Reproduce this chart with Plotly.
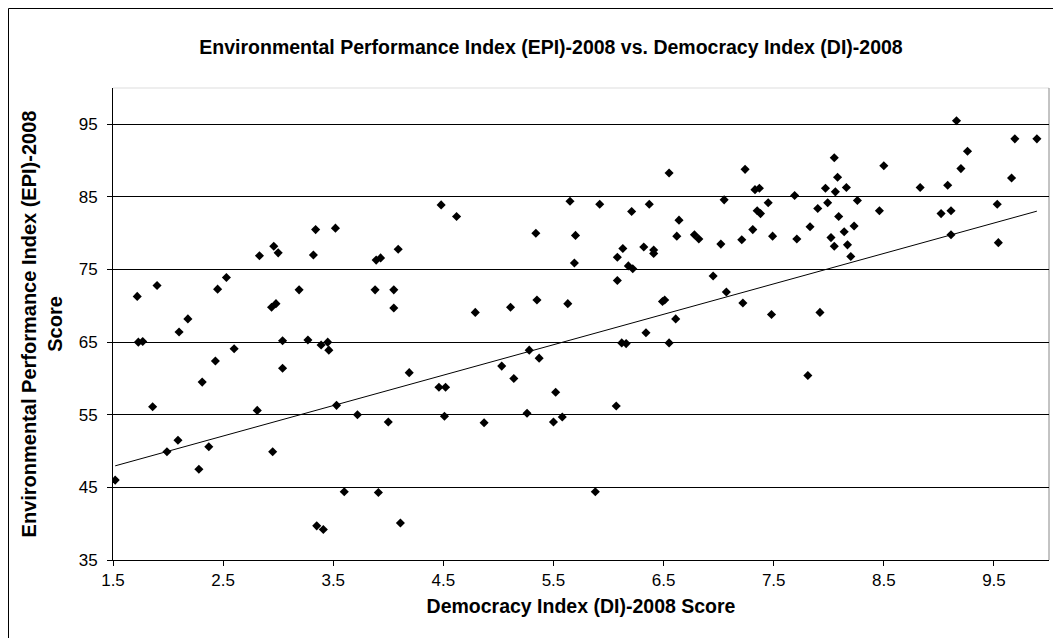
import numpy as np
import plotly.graph_objects as go

# Democracy Index (DI)-2008 score
di_score = [
    3.34, 2.96, 3.00, 2.83, 3.32, 1.72, 1.90, 2.45, 2.53, 2.94,
    2.98, 3.19, 2.10, 2.18, 1.73, 1.77, 2.60, 3.04, 3.27, 3.39,
    2.43, 2.31, 3.04, 1.52, 1.86, 1.99, 2.09, 2.28, 2.37, 2.81,
    2.95, 3.35, 3.41, 3.52, 4.09, 4.48, 4.62, 5.34, 3.89, 3.93,
    3.88, 4.05, 4.05, 4.79, 5.11, 5.35, 3.45, 3.46, 4.19, 4.46,
    4.52, 5.03, 5.14, 5.28, 5.37, 5.52, 3.53, 3.72, 4.00, 4.51,
    4.87, 5.26, 5.50, 5.58, 3.60, 3.91, 4.11, 6.07, 5.88, 6.55,
    7.24, 5.65, 5.92, 6.37, 6.21, 7.05, 7.33, 7.37, 7.45, 7.69,
    7.35, 7.38, 6.64, 5.70, 6.13, 6.32, 6.41, 6.41, 6.62, 6.78,
    6.82, 7.02, 7.21, 7.31, 7.49, 7.71, 5.69, 6.08, 6.18, 6.22,
    6.08, 6.95, 7.07, 7.22, 7.48, 5.63, 6.49, 6.51, 6.61, 6.34,
    6.12, 6.16, 6.55, 9.16, 9.69, 9.89, 9.26, 8.05, 8.50, 9.20,
    8.08, 9.66, 7.97, 8.06, 8.16, 8.83, 9.08, 8.26, 7.99, 7.90,
    9.53, 8.46, 9.02, 9.11, 8.09, 7.83, 8.23, 8.14, 9.11, 8.02,
    9.54, 8.05, 8.17, 8.20, 7.92, 7.81,
]

# Environmental Performance Index (EPI)-2008 score
epi_score = [
    80.5, 78.2, 77.3, 76.9, 77.0, 71.3, 72.8, 72.3, 73.9, 69.8,
    70.3, 72.2, 66.4, 68.2, 65.0, 65.1, 64.1, 65.2, 65.3, 64.6,
    62.4, 59.5, 61.4, 46.0, 56.1, 49.9, 51.5, 47.5, 50.6, 55.6,
    49.9, 39.7, 39.2, 80.7, 77.8, 83.9, 82.3, 80.0, 76.3, 76.6,
    72.2, 72.2, 69.7, 69.1, 69.8, 70.8, 65.0, 63.9, 60.8, 58.8,
    58.8, 61.7, 60.0, 63.9, 62.8, 58.1, 56.3, 55.0, 54.0, 54.8,
    53.9, 55.2, 54.0, 54.7, 44.4, 44.3, 40.1, 56.2, 44.4, 88.3,
    88.8, 84.4, 84.0, 84.0, 83.0, 84.6, 86.0, 86.2, 84.2, 85.2,
    83.1, 82.7, 81.8, 79.7, 77.9, 78.1, 77.7, 77.2, 79.6, 79.8,
    79.2, 78.5, 79.1, 80.5, 79.6, 79.2, 75.9, 76.7, 75.5, 75.1,
    73.5, 74.1, 71.9, 70.4, 68.8, 70.3, 70.6, 70.8, 68.2, 66.3,
    64.9, 64.8, 64.9, 95.5, 93.0, 93.0, 91.3, 90.4, 89.3, 88.9,
    87.7, 87.6, 86.2, 85.7, 86.3, 86.3, 86.6, 84.5, 84.2, 83.4,
    84.0, 83.1, 82.7, 83.1, 82.3, 80.9, 81.0, 80.2, 79.8, 79.4,
    78.7, 78.2, 78.4, 76.8, 69.1, 60.4,
]

# linear trend line as drawn in the original chart
trend_slope = 4.19
trend_intercept = 41.6

x_ticks = [1.5, 2.5, 3.5, 4.5, 5.5, 6.5, 7.5, 8.5, 9.5]
y_ticks = [35, 45, 55, 65, 75, 85, 95]

title_text = "Environmental Performance Index (EPI)-2008 vs. Democracy Index (DI)-2008"
x_title = "Democracy Index (DI)-2008 Score"
y_title = "Environmental Performance Index (EPI)-2008<br>Score"

trend_x = np.array([min(di_score), max(di_score)])
trend_y = trend_slope * trend_x + trend_intercept

FONT = "Liberation Sans, Arial, sans-serif"

fig = go.Figure()
fig.add_trace(go.Scatter(
    x=trend_x, y=trend_y, mode="lines",
    line=dict(color="black", width=1), hoverinfo="skip", showlegend=False,
))
fig.add_trace(go.Scatter(
    x=di_score, y=epi_score, mode="markers",
    marker=dict(symbol="diamond", size=7, color="black"),
    showlegend=False,
))

fig.update_layout(
    width=1061, height=638,
    margin=dict(l=105, r=20, t=80, b=86),
    paper_bgcolor="white", plot_bgcolor="white",
    font=dict(family=FONT, color="black", size=17),
    title=dict(text="<b>" + title_text + "</b>", x=543 / 1061, xanchor="center",
               y=1 - 39 / 638, yanchor="middle", font=dict(size=19.5)),
    showlegend=False,
)
fig.update_xaxes(
    range=[1.5, 10.0], tickvals=x_ticks, ticktext=[str(v) for v in x_ticks],
    showgrid=False, zeroline=False,
    showline=True, linecolor="black", linewidth=1,
    ticks="outside", ticklen=5, tickcolor="black",
    tickfont=dict(size=17),
    title=dict(text="<b>" + x_title + "</b>", font=dict(size=19.5), standoff=9),
)
fig.update_yaxes(
    range=[35, 100], tickvals=y_ticks,
    showgrid=True, gridcolor="black", gridwidth=1,
    zeroline=False,
    showline=True, linecolor="black", linewidth=1,
    ticks="outside", ticklen=5, tickcolor="black",
    ticklabelstandoff=6,
    tickfont=dict(size=17),
    title=dict(text="<b>" + y_title + "</b>", font=dict(size=20), standoff=10),
)
# plot-area border: light top edge, gray right edge
fig.add_shape(type="line", xref="paper", yref="paper", x0=0, y0=1, x1=1, y1=1,
              line=dict(color="#dddddd", width=1), layer="below")
fig.add_shape(type="line", xref="paper", yref="paper", x0=1, y0=0, x1=1, y1=1,
              line=dict(color="#888888", width=1), layer="below")
# chart-area border
fig.add_shape(type="rect", xref="paper", yref="paper",
              x0=-104.5 / 936, x1=1 + 19.5 / 936, y0=-85.5 / 472, y1=1 + 79.5 / 472,
              line=dict(color="black", width=1))

fig.write_html("out.html")
